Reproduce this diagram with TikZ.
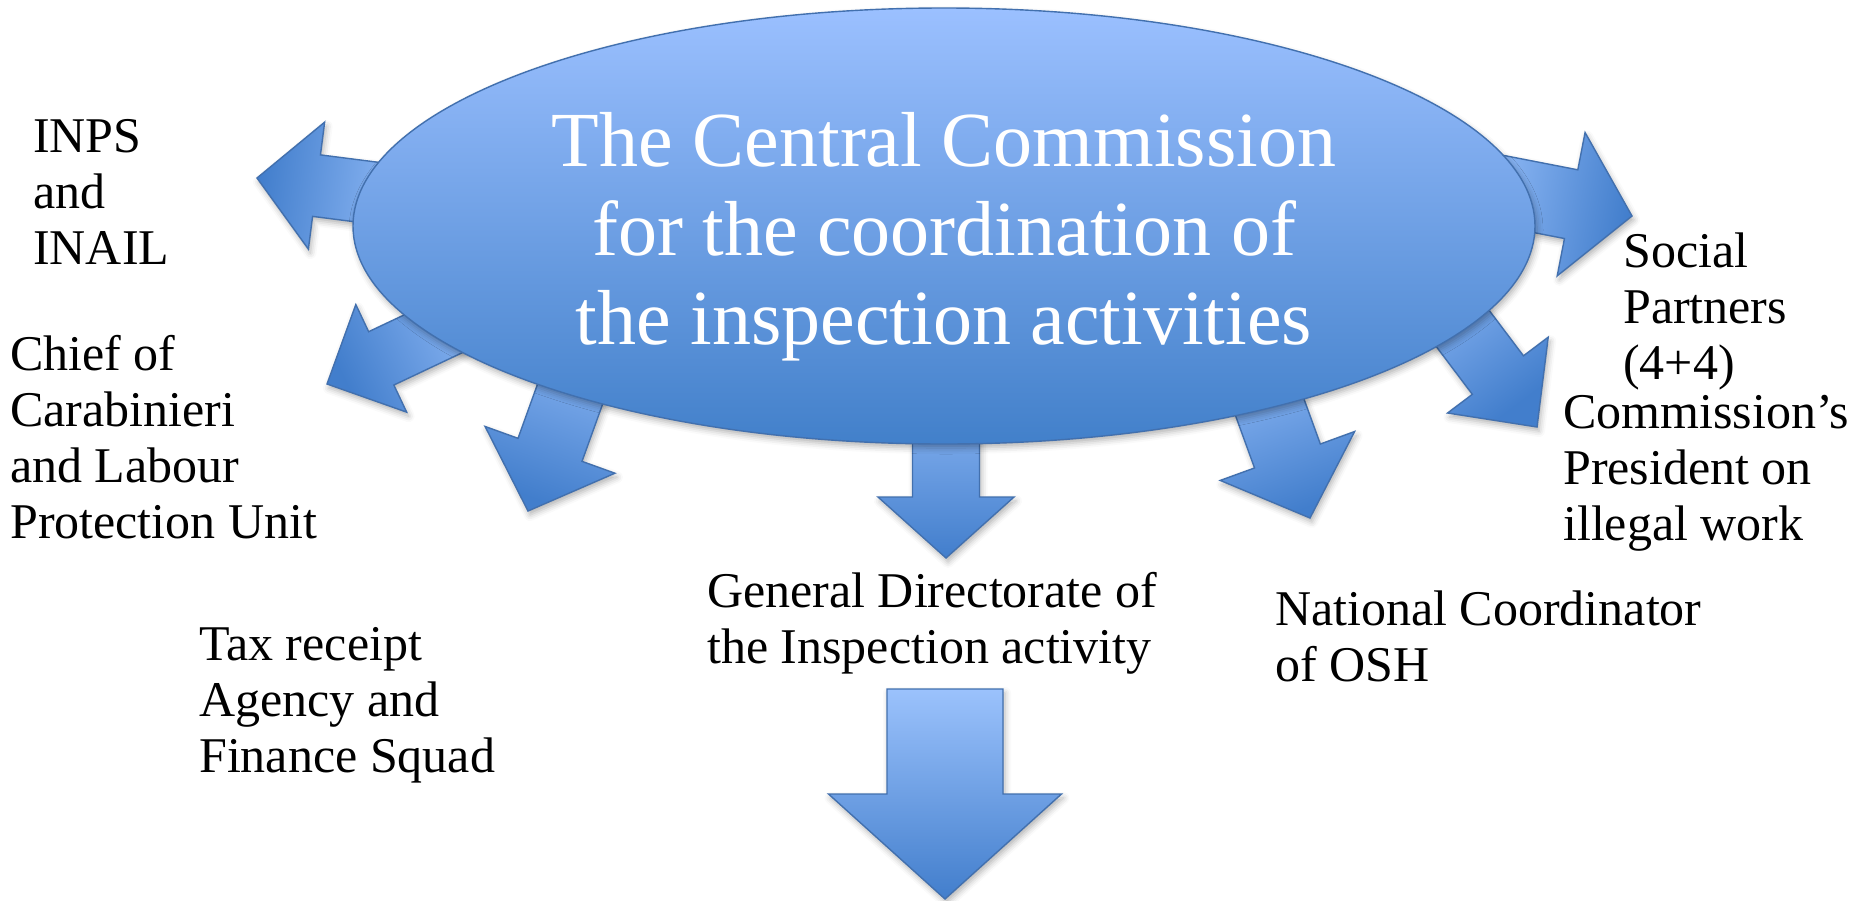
\documentclass[tikz,border=0pt]{standalone}
\usepackage{fontspec}
\setmainfont{Liberation Serif}
\usetikzlibrary{shapes.geometric,shadows.blur}

\definecolor{arrowLight}{RGB}{155,194,252}
\definecolor{arrowDark}{RGB}{66,126,204}
\definecolor{shapeEdge}{RGB}{66,112,174}
\definecolor{ovalTop}{RGB}{155,192,255}
\definecolor{ovalBottom}{RGB}{66,128,202}

\tikzset{
  softshadow/.style={blur shadow={shadow xshift=2pt, shadow yshift=-4pt,
      shadow blur radius=6pt, shadow opacity=30}},
  blockarrow/.style={draw=shapeEdge, line width=1.4pt, line join=miter,
      softshadow, shading=axis, top color=arrowDark, bottom color=arrowLight},
  oval/.style={ellipse, draw=shapeEdge, line width=1.4pt, softshadow,
      top color=ovalTop, bottom color=ovalBottom, inner sep=0pt},
  tag/.style={font=\fontsize{50}{56}\selectfont, anchor=base west, inner sep=0pt},
  title/.style={font=\fontsize{78}{89}\selectfont, text=white, anchor=base, inner sep=0pt}
}

% block arrow: tip x, tip y, direction (deg), length, shaft width, head width, head length
\newcommand\blockarrow[7]{%
  \pgfmathsetmacro\shadeang{#3-90}%
  \path[blockarrow, shading angle=\shadeang, shift={(#1,#2)}, rotate=#3]
    (0,0) -- (-#7,#6/2) -- (-#7,#5/2) -- (-#4,#5/2) -- (-#4,-#5/2)
    -- (-#7,-#5/2) -- (-#7,-#6/2) -- cycle;}

\newcommand\labellines[1]{\begin{tabular}[t]{@{}l@{}}#1\end{tabular}}

\begin{document}
\begin{tikzpicture}[x=1pt,y=-1pt]
  \useasboundingbox (0,0) rectangle (1858,900);

  % arrows leaving the commission (tails hidden under the oval)
  \blockarrow{257}{178}{172.7}{170}{62}{128}{60}
  \blockarrow{327}{384}{205.3}{200}{59}{119}{60}
  \blockarrow{528}{511}{-109.8}{220}{68}{138}{65}
  \blockarrow{946}{558}{-90}{200}{67}{136}{61}
  \blockarrow{1310}{518}{-70}{200}{70}{143}{66}
  \blockarrow{1537}{427}{-53}{220}{64}{126}{65}
  \blockarrow{1632}{216}{-11}{170}{70}{146}{62}

  % the commission
  \node[oval, minimum width=1182pt, minimum height=436pt] (cc) at (944,226) {};
  \node[title] (cctitle) at (944,166)
    {\begin{tabular}[t]{@{}c@{}}The Central Commission\\for the coordination of\\the inspection activities\end{tabular}};

  % bodies involved
  \node[tag] (inps) at (33,152) {\labellines{INPS\\and\\INAIL}};
  \node[tag] (chief) at (10,370) {\labellines{Chief of\\Carabinieri\\and Labour\\Protection Unit}};
  \node[tag] (tax) at (199,660) {\labellines{Tax receipt\\Agency and\\Finance Squad}};
  \node[tag] (gdi) at (707,607) {\labellines{General Directorate of\\the Inspection activity}};
  \node[tag] (osh) at (1275,625) {\labellines{National Coordinator\\of OSH}};
  \node[tag] (partners) at (1623,267) {\labellines{Social\\Partners\\(4+4)}};
  \node[tag] (president) at (1563,428) {\labellines{Commission’s\\President on\\illegal work}};

  % arrow below the General Directorate
  \blockarrow{945}{899}{-90}{210}{116}{233}{105}
\end{tikzpicture}
\end{document}
